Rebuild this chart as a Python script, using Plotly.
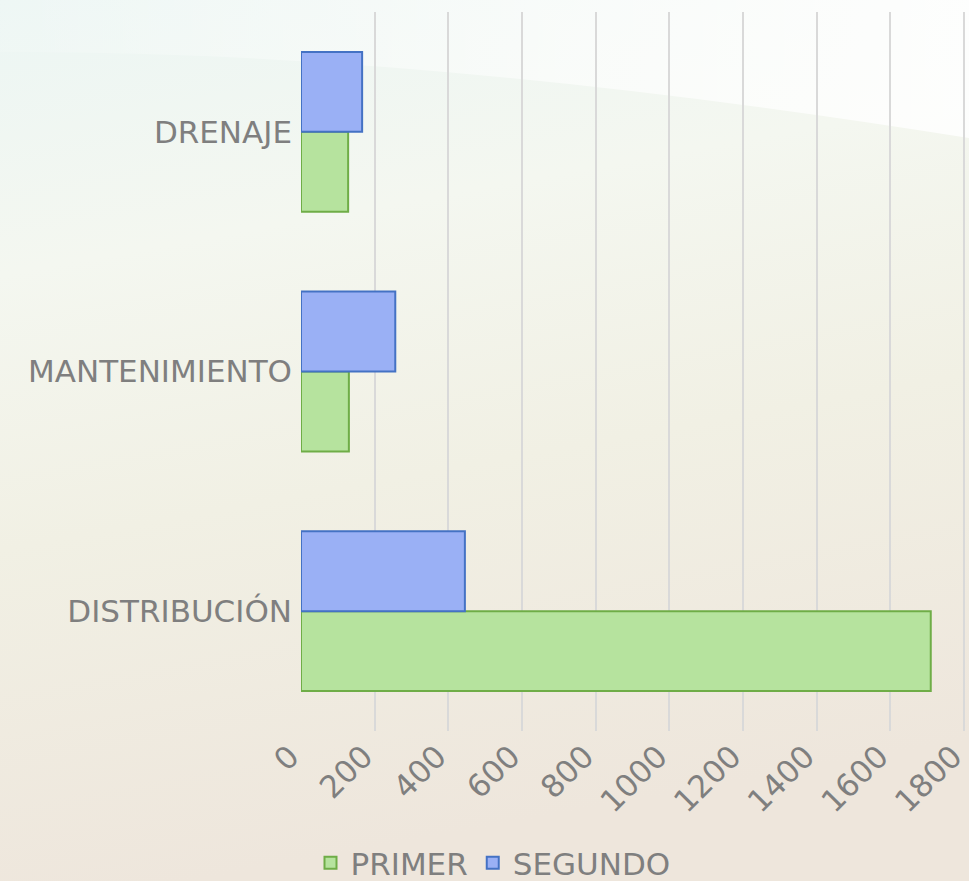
import base64
import plotly.graph_objects as go

categories = ["DISTRIBUCIÓN", "MANTENIMIENTO", "DRENAJE"]
primer = [1710, 130, 128]
segundo = [445, 256, 166]
tick_vals = [0, 200, 400, 600, 800, 1000, 1200, 1400, 1600, 1800]

W, H = 969, 881
ML, MR, MT, MB = 301, 4, 12, 150
PW, PH = W - ML - MR, H - MT - MB

svg = f'''<svg xmlns="http://www.w3.org/2000/svg" width="{W}" height="{H}" viewBox="0 0 {W} {H}" preserveAspectRatio="none">
<defs>
<linearGradient id="g" x1="0" y1="0" x2="0.2" y2="1">
<stop offset="0" stop-color="#ecf6f4"/>
<stop offset="0.3" stop-color="#f4f7f0"/>
<stop offset="0.6" stop-color="#f1f0e4"/>
<stop offset="1" stop-color="#eee6dc"/>
</linearGradient>
<linearGradient id="w" x1="0" y1="0" x2="1" y2="0">
<stop offset="0" stop-color="#ffffff" stop-opacity="0.1"/>
<stop offset="0.6" stop-color="#ffffff" stop-opacity="0.6"/>
<stop offset="1" stop-color="#ffffff" stop-opacity="0.85"/>
</linearGradient>
</defs>
<rect width="{W}" height="{H}" fill="url(#g)"/>
<path d="M0 0 L{W} 0 L{W} 138 Q420 50 0 52 Z" fill="url(#w)"/>
</svg>'''
src = "data:image/svg+xml;base64," + base64.b64encode(svg.encode()).decode()

font = dict(family="DejaVu Sans", size=31, color="#7f7f7f")

fig = go.Figure()
fig.add_trace(go.Bar(
    y=categories, x=primer, orientation="h", name="PRIMER",
    marker=dict(color="#b6e39e", line=dict(color="#6fad47", width=2)),
))
fig.add_trace(go.Bar(
    y=categories, x=segundo, orientation="h", name="SEGUNDO",
    marker=dict(color="#9ab0f5", line=dict(color="#4472c4", width=2)),
))

fig.update_layout(
    width=W, height=H,
    margin=dict(l=ML, r=MR, t=MT, b=MB, autoexpand=False),
    paper_bgcolor="#f1efe4",
    plot_bgcolor="rgba(0,0,0,0)",
    barmode="group",
    bargap=1/3,
    bargroupgap=0,
    font=font,
    showlegend=True,
    legend=dict(orientation="h", x=(493 - ML) / PW, xanchor="center",
                y=-132 / PH, yanchor="middle", font=font,
                bgcolor="rgba(0,0,0,0)", tracegroupgap=0),
    images=[dict(source=src, xref="paper", yref="paper",
                 x=-ML / PW, y=1 + MT / PH, sizex=W / PW, sizey=H / PH,
                 sizing="stretch", layer="below", xanchor="left", yanchor="top")],
)
fig.update_xaxes(
    range=[0, 1803], tickvals=tick_vals, ticktext=[str(v) for v in tick_vals],
    tickangle=-45, showgrid=True, gridcolor="#d9d9d9", gridwidth=1.5,
    zeroline=False, showline=False, ticks="", tickfont=font, automargin=False,
    ticklabeloverflow="allow", ticklabelshift=-11,
)
fig.update_yaxes(
    categoryorder="array", categoryarray=categories,
    showgrid=False, zeroline=False, showline=False, ticks="",
    tickfont=font, ticklabelstandoff=8, automargin=False,
)

fig.write_html("out.html", config={"displayModeBar": False},
               post_script="document.body.style.margin='0';document.body.style.overflow='hidden';")
